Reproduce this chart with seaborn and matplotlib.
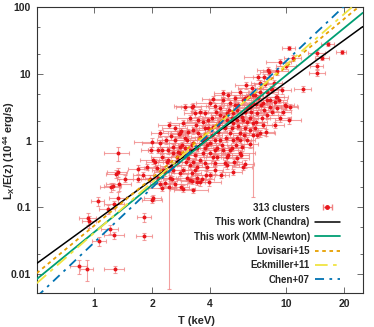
"""
L-T relation: 313 clusters with fitted power laws
"""
import numpy as np
import pandas as pd
import matplotlib
matplotlib.use('Agg')
import matplotlib.pyplot as plt
import seaborn as sns
from matplotlib.ticker import FixedLocator, NullFormatter

# cluster temperatures (keV) and luminosities (1e44 erg/s)
t_kev = [1.32, 1.32, 1.45, 1.22, 1.35, 1.25, 1.30, 1.32, 1.04, 1.27,
         1.17, 0.94, 1.20, 1.27, 1.06, 0.83, 0.91, 1.28, 0.925, 1.69,
         1.69, 1.98, 2.00, 2.07, 2.15, 2.20, 1.82, 1.82, 2.02, 2.00,
         2.25, 2.45, 2.83, 2.90, 3.26, 3.22, 3.42, 3.95, 3.81, 2.79,
         2.45, 2.51, 2.76, 2.83, 2.25, 2.42, 2.57, 2.33, 2.48, 2.20,
         2.25, 2.39, 2.28, 2.57, 2.79, 2.97, 3.07, 3.15, 3.22, 3.42,
         3.55, 3.77, 4.00, 4.15, 4.35, 3.86, 3.26, 3.55, 3.15, 4.67,
         3.26, 3.34, 4.00, 4.24, 4.51, 3.68, 2.90, 2.79, 3.04, 3.26,
         3.55, 4.15, 4.51, 4.90, 5.52, 5.86, 6.22, 5.08, 5.52, 4.51,
         4.00, 4.67, 5.20, 5.72, 4.35, 3.68, 3.15, 2.79, 2.70, 3.26,
         3.86, 4.90, 5.93, 2.90, 2.57, 3.04, 4.00, 3.42, 6.30, 6.45,
         5.08, 5.59, 6.22, 6.68, 7.54, 8.19, 8.91, 9.80, 10.4, 7.90,
         7.01, 6.45, 5.93, 5.26, 4.90, 6.68, 7.54, 7.27, 6.45, 5.72,
         5.26, 6.22, 7.01, 5.86, 5.08, 4.90, 5.52, 6.45, 6.07, 6.68,
         5.79, 4.79, 7.10, 7.36, 7.90, 8.39, 8.69, 8.91, 7.71, 8.59,
         7.10, 7.62, 8.09, 9.23, 10.0, 10.3, 10.8, 9.91, 12.2, 14.4,
         14.5, 15.4, 14.4, 16.4, 19.4, 3.22, 4.67, 5.02, 4.15, 3.77,
         2.97, 8.00, 7.27, 8.91, 6.68, 5.93, 5.39, 7.90, 9.12, 6.45,
         8.29, 8.80, 3.47, 3.77, 4.10, 4.40, 4.79, 5.20, 5.59, 6.07,
         5.46, 4.62, 4.24, 3.81, 3.42, 2.97, 2.73, 2.51, 3.34, 4.24,
         5.26, 3.63, 4.57, 3.07, 2.63, 2.36, 2.15, 2.02, 1.88, 1.80,
         2.12, 1.95, 2.33, 2.63, 2.54, 3.90, 4.30, 4.73, 4.10, 4.84,
         5.20, 6.00, 6.84, 7.45, 8.39, 9.23, 9.57, 7.62, 6.92, 6.07,
         5.39, 4.96, 5.72, 6.15, 6.60, 6.84, 7.27, 5.52, 4.40, 3.38,
         3.15, 3.55, 2.97, 3.34, 3.77, 4.24, 4.96, 5.33, 4.24, 3.68,
         4.51, 2.42, 2.63, 2.20, 3.00, 3.47, 3.90, 6.52, 5.72, 7.80,
         8.69, 10.3, 8.19, 9.45, 6.92, 6.07, 5.26, 3.22, 2.86, 2.73]
lx = [0.65, 0.34, 0.27, 0.20, 0.22, 0.21, 0.32, 0.14, 0.124, 0.112,
      0.094, 0.062, 0.047, 0.038, 0.031, 0.0132, 0.0119, 0.0119, 0.069, 0.375,
      0.27, 0.72, 0.95, 0.48, 0.28, 0.22, 0.072, 0.037, 0.14, 0.131,
      0.195, 0.20, 0.20, 0.19, 0.18, 0.25, 0.24, 0.24, 0.305, 0.33,
      1.71, 1.17, 1.26, 1.39, 0.57, 0.51, 0.65, 0.34, 0.28, 0.92,
      0.72, 0.48, 0.36, 0.80, 0.65, 0.77, 0.55, 0.43, 0.33, 0.40,
      0.51, 0.46, 0.65, 0.57, 0.77, 0.86, 0.92, 0.24, 0.256, 5.17,
      3.30, 2.59, 3.66, 3.30, 3.08, 1.90, 1.84, 1.30, 1.02, 1.44,
      1.13, 1.60, 1.90, 2.59, 2.88, 2.26, 1.90, 1.30, 1.09, 1.02,
      0.92, 0.72, 0.77, 0.65, 0.57, 0.65, 0.72, 0.80, 0.57, 0.48,
      0.40, 0.43, 0.40, 0.36, 0.36, 0.28, 0.305, 0.28, 4.51, 3.42,
      3.66, 3.42, 3.08, 3.66, 3.66, 3.19, 3.08, 3.42, 3.19, 2.42,
      2.59, 2.18, 2.04, 1.84, 2.04, 1.84, 1.71, 1.30, 1.44, 1.30,
      1.02, 1.02, 1.21, 0.80, 0.72, 0.57, 0.55, 0.89, 0.45, 1.21,
      0.61, 0.46, 4.35, 3.42, 5.35, 5.94, 3.79, 4.51, 7.06, 7.31,
      8.99, 8.99, 10.7, 15.1, 13.1, 24.4, 17.3, 3.30, 5.94, 13.1,
      10.3, 17.3, 20.6, 28.1, 21.3, 3.19, 4.06, 2.88, 4.21, 2.59,
      3.19, 11.4, 7.31, 11.0, 4.83, 4.06, 4.35, 4.06, 4.06, 3.19,
      5.94, 4.51, 2.04, 1.55, 2.18, 1.35, 1.55, 2.18, 1.66, 1.55,
      0.86, 0.86, 1.02, 1.09, 0.77, 0.61, 0.48, 0.42, 0.36, 0.36,
      0.34, 0.27, 0.305, 1.34, 1.02, 1.02, 0.72, 0.51, 0.40, 0.305,
      0.39, 0.27, 0.23, 0.22, 0.27, 2.04, 2.68, 2.26, 1.21, 1.09,
      1.55, 1.21, 1.55, 2.18, 2.68, 2.18, 2.68, 2.88, 1.90, 2.68,
      3.42, 4.83, 5.35, 6.82, 6.15, 4.83, 5.35, 2.04, 1.71, 1.71,
      2.18, 2.68, 1.09, 0.61, 0.77, 0.72, 0.61, 0.48, 0.46, 1.02,
      2.42, 0.72, 1.55, 1.30, 0.48, 1.30, 1.55, 2.68, 1.02, 1.35,
      1.71, 2.04, 4.06, 5.74, 3.52, 4.35, 2.59, 0.86, 0.86, 0.67]
# relative 1-sigma errors on T and on Lx
t_err = [0.15, 0.12, 0.10, 0.12, 0.15, 0.10, 0.12, 0.10, 0.08, 0.12,
         0.10, 0.08, 0.10, 0.12, 0.08, 0.10, 0.08, 0.12, 0.10, 0.12,
         0.15, 0.12, 0.20, 0.10, 0.15, 0.12, 0.08, 0.10, 0.10, 0.12,
         0.15, 0.08, 0.10, 0.15, 0.20, 0.12, 0.10, 0.15, 0.12, 0.10,
         0.12, 0.15, 0.10, 0.20, 0.12, 0.10, 0.15, 0.12, 0.10, 0.20,
         0.15, 0.10, 0.12, 0.15, 0.12, 0.20, 0.10, 0.15, 0.12, 0.10,
         0.15, 0.12, 0.20, 0.10, 0.15, 0.12, 0.25, 0.12, 0.15, 0.10,
         0.20, 0.12, 0.15, 0.10, 0.12, 0.20, 0.15, 0.10, 0.12, 0.15,
         0.10, 0.12, 0.15, 0.10, 0.12, 0.15, 0.20, 0.12, 0.10, 0.15,
         0.12, 0.10, 0.15, 0.20, 0.12, 0.15, 0.10, 0.12, 0.15, 0.12,
         0.10, 0.15, 0.12, 0.10, 0.15, 0.12, 0.20, 0.10, 0.15, 0.12,
         0.10, 0.12, 0.15, 0.10, 0.12, 0.15, 0.10, 0.12, 0.10, 0.15,
         0.12, 0.10, 0.15, 0.12, 0.10, 0.15, 0.12, 0.20, 0.10, 0.12,
         0.15, 0.10, 0.12, 0.15, 0.10, 0.12, 0.15, 0.10, 0.12, 0.08,
         0.10, 0.15, 0.12, 0.10, 0.15, 0.12, 0.10, 0.15, 0.12, 0.10,
         0.15, 0.12, 0.10, 0.15, 0.12, 0.08, 0.10, 0.15, 0.10, 0.08,
         0.10, 0.08, 0.10, 0.08, 0.06, 0.12, 0.15, 0.10, 0.12, 0.15,
         0.10, 0.12, 0.10, 0.15, 0.12, 0.10, 0.15, 0.12, 0.10, 0.12,
         0.15, 0.10, 0.12, 0.15, 0.10, 0.12, 0.15, 0.10, 0.12, 0.15,
         0.10, 0.12, 0.15, 0.10, 0.12, 0.15, 0.10, 0.12, 0.15, 0.10,
         0.12, 0.15, 0.10, 0.12, 0.15, 0.10, 0.12, 0.15, 0.10, 0.12,
         0.15, 0.10, 0.12, 0.15, 0.10, 0.12, 0.15, 0.10, 0.12, 0.15,
         0.10, 0.12, 0.15, 0.10, 0.12, 0.15, 0.10, 0.12, 0.15, 0.10,
         0.12, 0.15, 0.10, 0.12, 0.15, 0.10, 0.12, 0.15, 0.10, 0.12,
         0.15, 0.10, 0.12, 0.15, 0.10, 0.12, 0.15, 0.10, 0.12, 0.15,
         0.10, 0.12, 0.15, 0.10, 0.12, 0.15, 0.10, 0.12, 0.15, 0.10,
         0.12, 0.15, 0.10, 0.12, 0.15, 0.10, 0.12, 0.15, 0.10, 0.12]
lx_err = [0.25, 0.15, 0.12, 0.15, 0.20, 0.12, 0.15, 0.20, 0.15, 0.12,
          0.15, 0.20, 0.15, 0.12, 0.15, 0.25, 0.35, 0.12, 0.20, 0.15,
          0.12, 0.10, 0.15, 0.12, 0.10, 0.12, 0.15, 0.12, 0.10, 0.12,
          0.10, 0.97, 0.10, 0.12, 0.10, 0.12, 0.10, 0.12, 0.15, 0.10,
          0.10, 0.12, 0.10, 0.12, 0.10, 0.12, 0.10, 0.12, 0.10, 0.12,
          0.10, 0.12, 0.10, 0.12, 0.10, 0.12, 0.10, 0.12, 0.10, 0.12,
          0.10, 0.12, 0.10, 0.12, 0.10, 0.12, 0.10, 0.12, 0.10, 0.12,
          0.10, 0.12, 0.10, 0.12, 0.10, 0.12, 0.10, 0.12, 0.10, 0.12,
          0.10, 0.12, 0.10, 0.12, 0.10, 0.12, 0.10, 0.12, 0.10, 0.12,
          0.10, 0.12, 0.10, 0.12, 0.10, 0.12, 0.10, 0.12, 0.10, 0.12,
          0.10, 0.12, 0.10, 0.12, 0.10, 0.12, 0.10, 0.12, 0.10, 0.12,
          0.10, 0.12, 0.10, 0.12, 0.10, 0.12, 0.10, 0.12, 0.10, 0.12,
          0.10, 0.12, 0.10, 0.12, 0.10, 0.12, 0.10, 0.12, 0.10, 0.12,
          0.10, 0.12, 0.10, 0.12, 0.10, 0.12, 0.10, 0.12, 0.15, 0.88,
          0.10, 0.12, 0.10, 0.12, 0.10, 0.12, 0.10, 0.12, 0.10, 0.12,
          0.10, 0.12, 0.10, 0.12, 0.10, 0.08, 0.10, 0.12, 0.10, 0.10,
          0.10, 0.08, 0.10, 0.08, 0.08, 0.12, 0.10, 0.12, 0.10, 0.12,
          0.10, 0.12, 0.10, 0.12, 0.10, 0.12, 0.10, 0.12, 0.10, 0.12,
          0.10, 0.12, 0.10, 0.12, 0.10, 0.12, 0.10, 0.12, 0.10, 0.12,
          0.10, 0.12, 0.10, 0.12, 0.10, 0.12, 0.10, 0.12, 0.10, 0.12,
          0.10, 0.12, 0.10, 0.12, 0.10, 0.12, 0.10, 0.12, 0.10, 0.12,
          0.10, 0.12, 0.10, 0.12, 0.10, 0.12, 0.10, 0.12, 0.10, 0.12,
          0.10, 0.12, 0.10, 0.12, 0.10, 0.12, 0.10, 0.12, 0.10, 0.12,
          0.10, 0.12, 0.10, 0.12, 0.10, 0.12, 0.10, 0.12, 0.10, 0.12,
          0.10, 0.12, 0.10, 0.12, 0.10, 0.12, 0.10, 0.12, 0.10, 0.12,
          0.10, 0.12, 0.10, 0.12, 0.10, 0.12, 0.10, 0.12, 0.10, 0.12,
          0.10, 0.12, 0.10, 0.12, 0.10, 0.12, 0.10, 0.12, 0.10, 0.12]

# power-law fits: L = norm * (T / 4 keV)^slope
fit_labels = ['This work (Chandra)', 'This work (XMM-Newton)', 'Lovisari+15',
              'Eckmiller+11', 'Chen+07']
fit_norm = [1.11, 1.11, 1.45, 1.37, 1.30]
fit_slope = [2.09, 2.35, 2.38, 2.52, 2.72]
fit_colors = ['black', '#009e73', '#e69f00', '#f0e442', '#0072b2']
fit_dashes = [None, None, (2, 2), (7, 3, 2, 3), (5, 3, 1.5, 3)]

sns.set_style('ticks')
plt.rcParams['font.family'] = ['Liberation Sans', 'DejaVu Sans']
plt.rcParams['font.weight'] = 'bold'
plt.rcParams['mathtext.default'] = 'regular'

t = np.array(t_kev)
l = np.array(lx)
df = pd.DataFrame({'T': t, 'L': l})

fig = plt.figure(figsize=(3.74, 3.27), dpi=100)
ax = fig.add_axes([0.098, 0.104, 0.872, 0.874])
ax.set_xscale('log')
ax.set_yscale('log')

ax.errorbar(t, l, xerr=t * np.array(t_err), yerr=l * np.array(lx_err),
            fmt='none', ecolor='#f08080', elinewidth=0.8, capsize=1.5,
            capthick=0.8, alpha=0.75, zorder=1)
sns.scatterplot(data=df, x='T', y='L', ax=ax, color='#e8151b', s=8,
                linewidth=0, zorder=2)

tt = np.geomspace(0.5, 25, 60)
lines = []
for lab, a, b, c, d in zip(fit_labels, fit_norm, fit_slope, fit_colors, fit_dashes):
    (ln,) = ax.plot(tt, a * (tt / 4.0) ** b, color=c,
                    lw=1.1 if c == 'black' else 1.3, label=lab, zorder=3)
    if d is not None:
        ln.set_dashes(d)
    lines.append(ln)

# proxy for legend (horizontal error bar only, gnuplot style)
proxy = ax.errorbar([np.nan], [np.nan], xerr=[1], fmt='o', ms=2.5,
                    color='#e8151b', ecolor='#f08080', elinewidth=0.9,
                    capsize=2, label='313 clusters')

ax.set_xlim(0.5, 25)
ax.set_ylim(0.0052, 100)
ax.xaxis.set_major_locator(FixedLocator([1, 2, 4, 10, 20]))
ax.xaxis.set_minor_locator(FixedLocator([]))
ax.set_xticklabels(['1', '2', '4', '10', '20'])
ax.yaxis.set_major_locator(FixedLocator([0.01, 0.1, 1, 10, 100]))
ax.yaxis.set_minor_locator(FixedLocator([0.02, 0.05, 0.2, 0.5, 2, 5, 20, 50]))
ax.yaxis.set_minor_formatter(NullFormatter())
ax.set_yticklabels(['0.01', '0.1', '1', '10', '100'])
ax.tick_params(which='both', direction='in', top=True, right=True,
               labelsize=7.5, width=0.6, color='#555555')
ax.tick_params(which='major', length=4, pad=4)
ax.tick_params(which='minor', length=2.5)
for s in ax.spines.values():
    s.set_linewidth(0.8)
    s.set_color('#333333')

ax.set_xlabel('T (keV)', fontsize=8, fontweight='bold')
ax.set_ylabel(r'L$_{X}$/E(z) (10$^{44}$ erg/s)', fontsize=8, fontweight='bold')
ax.xaxis.set_label_coords(0.49, -0.08)
ax.yaxis.set_label_coords(-0.06, 0.5)

handles = [proxy] + lines
ax.legend(handles=handles, labels=['313 clusters'] + fit_labels,
          loc='lower right', bbox_to_anchor=(0.96, -0.005), frameon=False,
          markerfirst=False, fontsize=7, handlelength=2.6,
          labelspacing=0.45, handletextpad=0.5, borderpad=0.5)

plt.savefig('out.png', dpi=100)
